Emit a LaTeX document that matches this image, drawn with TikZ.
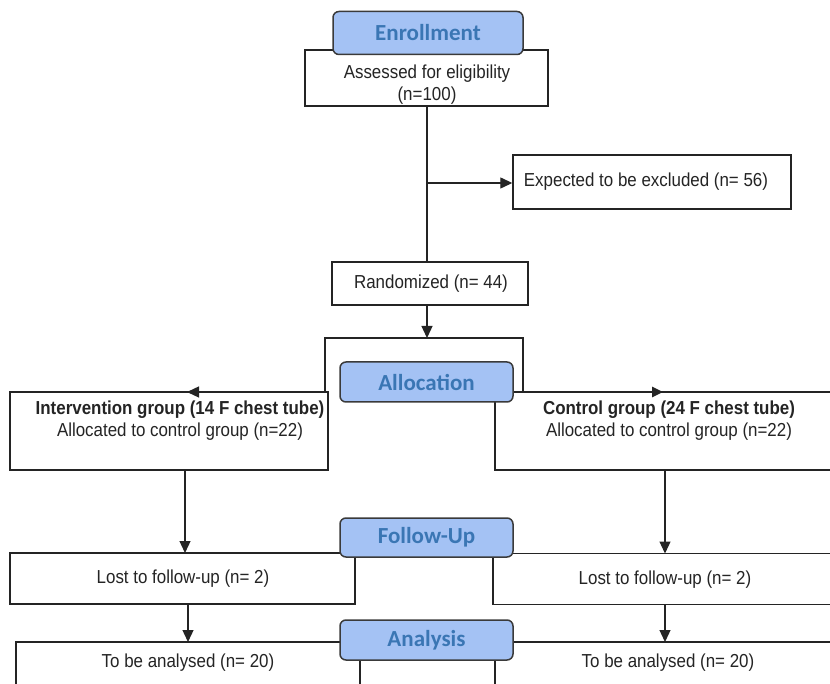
\documentclass[tikz,border=0pt]{standalone}
\usepackage{fontspec}
\setmainfont[FakeStretch=0.9]{Liberation Sans}
\newfontfamily\stagefont{Carlito}
\usetikzlibrary{arrows.meta}
\definecolor{stagefill}{HTML}{A4C2F4}
\definecolor{stagetext}{HTML}{3A76B4}
\definecolor{ink}{HTML}{242424}
\tikzset{
  box/.style={draw=ink, line width=1.4pt, fill=white, rectangle, inner sep=0pt},
  stage/.style={draw=ink!90, line width=1.5pt, fill=stagefill, rounded corners=6pt,
    minimum width=173pt, minimum height=40pt, inner sep=0pt,
    font=\stagefont\fontsize{23}{26}\selectfont\bfseries, text=stagetext},
  txt/.style={font=\fontsize{18.8}{22}\selectfont, text=ink, align=center, inner sep=0pt},
  conn/.style={draw=ink, line width=1.3pt},
  arr/.style={conn, -{Triangle[length=12pt,width=11pt]}}
}
\begin{document}
\begin{tikzpicture}[x=1pt,y=-1pt]
\useasboundingbox (0,0) rectangle (830,684);
\clip (0,0) rectangle (830,684);
% enrollment
\node[box, minimum width=243pt, minimum height=56pt] (assess) at (426.5,78) {};
\node[txt] (assesstxt) at (427,85) {Assessed for eligibility\\(n=100)};
\node[stage, minimum width=190pt, minimum height=43pt] (enr) at (428,33) {Enrollment};
\node[box, minimum width=278pt, minimum height=54pt] (excl) at (652,182) {};
\node[txt] (excltxt) at (646,182) {Expected to be excluded (n= 56)};
\node[box, minimum width=196pt, minimum height=43pt] (rand) at (430,283.5) {};
\node[txt] (randtxt) at (431,284) {Randomized (n= 44)};
\coordinate (split) at (427,183);
\draw[conn] (assess.south -| split) -- (rand.north -| split);
\draw[arr] (split) -- (excl.west |- split);
% allocation bracket
\coordinate (btop) at (427,338);
\coordinate (bl) at (325,392);
\coordinate (br) at (523,392);
\coordinate (la) at (187,392);
\coordinate (ra) at (663,392);
\draw[arr] (rand.south -| btop) -- (btop);
\draw[conn] (bl) -- (325,338) -- (523,338) -- (br);
% group boxes
\node[box, minimum width=318pt, minimum height=78pt] (interv) at (169,431) {};
\node[txt] (intervtxt) at (180,421) {\textbf{Intervention group (14 F chest tube)}\\Allocated to control group (n=22)};
\node[box, minimum width=340pt, minimum height=78pt] (ctrl) at (665,431) {};
\node[txt] (ctrltxt) at (669,421) {\textbf{Control group (24 F chest tube)}\\Allocated to control group (n=22)};
\draw[arr] (bl) -- (la);
\draw[conn, line width=2.6pt, -{Triangle[length=11pt,width=10pt]}] (br) -- (ra);
\node[stage] (alloc) at (426.5,382) {Allocation};
% follow-up
\node[box, minimum width=345pt, minimum height=51pt] (lost1) at (182.5,578.5) {};
\node[txt] (lost1txt) at (183,579) {Lost to follow-up (n= 2)};
\node[box, minimum width=342pt, minimum height=51pt] (lost2) at (664,579) {};
\node[txt] (lost2txt) at (665,580) {Lost to follow-up (n= 2)};
\node[stage, minimum height=39pt] (fu) at (426.5,537.5) {Follow-Up};
\draw[arr] (185,470) -- (185,553);
\draw[arr] (665,470) -- (665,553.5);
% analysis
\node[box, minimum width=344pt, minimum height=70pt] (ana1) at (188,677) {};
\node[txt] (ana1txt) at (188,663) {To be analysed (n= 20)};
\node[box, minimum width=340pt, minimum height=70pt] (ana2) at (665,677) {};
\node[txt] (ana2txt) at (668,663) {To be analysed (n= 20)};
\node[stage] (ana) at (426.5,640) {Analysis};
\draw[arr] (188,604) -- (188,642);
\draw[arr] (665,604.5) -- (665,642);
\end{tikzpicture}
\end{document}
